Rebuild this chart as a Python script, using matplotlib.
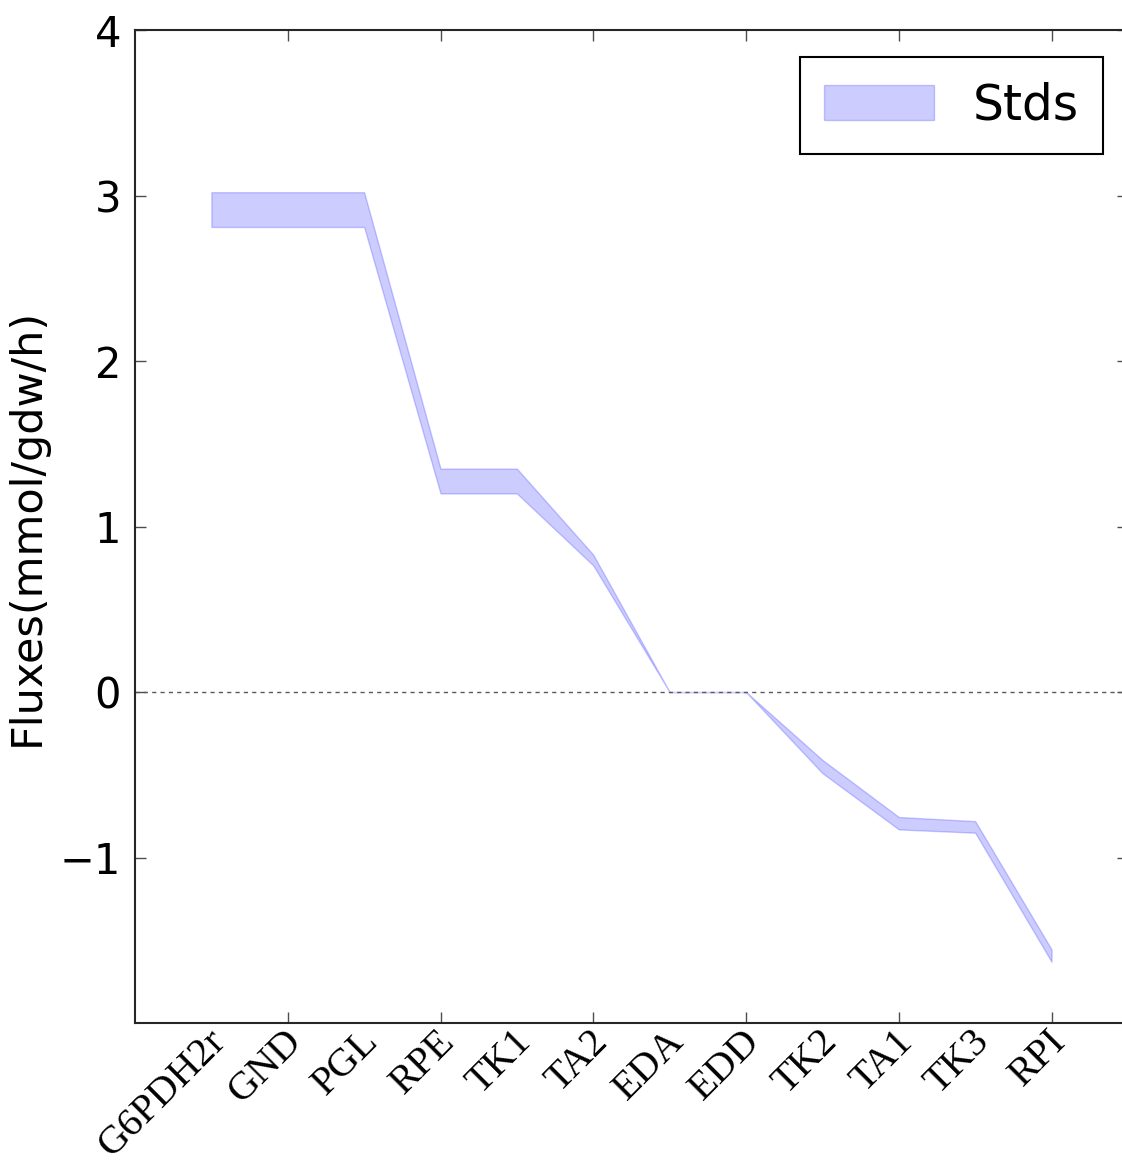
import numpy as np
import matplotlib
matplotlib.use('Agg')
import matplotlib.pyplot as plt
import matplotlib.transforms as mtransforms

# reactions and flux band (upper / lower bound of the std band)
reactions = ['G6PDH2r', 'GND', 'PGL', 'RPE', 'TK1', 'TA2',
             'EDA', 'EDD', 'TK2', 'TA1', 'TK3', 'RPI']
upper = [3.02, 3.02, 3.02, 1.35, 1.35, 0.83, 0.0, 0.0, -0.41, -0.755, -0.78, -1.555]
lower = [2.81, 2.81, 2.81, 1.20, 1.20, 0.765, 0.0, 0.0, -0.49, -0.83, -0.85, -1.63]
yticks = [-1, 0, 1, 2, 3, 4]

x = np.arange(1, len(reactions) + 1)

fig = plt.figure(figsize=(11.22, 11.64), dpi=100)
ax = fig.add_axes([0.1203, 0.1211, 0.8850, 0.8531])

ax.fill_between(x, lower, upper, facecolor='b', edgecolor='b', alpha=0.2,
                linewidth=1, label='Stds')
ax.axhline(0, color='0.35', linestyle='--', linewidth=1, dashes=(3, 3))

ax.set_xlim(0, 13)
ax.set_ylim(-2, 4)
ax.set_yticks(yticks)
ax.set_yticklabels(['\u2212' + str(-t) if t < 0 else str(t) for t in yticks])

# tick marks every other reaction, rotated labels under every reaction
ax.set_xticks(x[1::2])
ax.set_xticklabels([])
ax.tick_params(axis='x', direction='in', length=8, width=1,
               top=True, bottom=True, color='0.3')
ax.tick_params(axis='y', direction='in', length=8, width=1,
               left=True, right=True, labelsize=30, pad=10, color='0.3')

shift = mtransforms.ScaledTranslation(22 / 100, 0, fig.dpi_scale_trans)
for xi, name in zip(x, reactions):
    ax.text(xi, 0, name, transform=ax.get_xaxis_transform() + shift,
            rotation=45, ha='right', va='top',
            family='Liberation Serif', fontsize=29)

for s in ax.spines.values():
    s.set_linewidth(1.5)
    s.set_color('0.15')

ax.set_ylabel('Fluxes(mmol/gdw/h)', fontsize=31)
ax.yaxis.set_label_coords(-0.088, 0.5)

leg = ax.legend(loc='upper right', bbox_to_anchor=(1103 / 1122, 1 - 57 / 1164),
                bbox_transform=fig.transFigure, borderaxespad=0, fontsize=35,
                fancybox=False, framealpha=1, edgecolor='k',
                handlelength=2.25, handleheight=0.75, handletextpad=0.8,
                borderpad=0.5)
leg.get_frame().set_linewidth(1.5)

fig.savefig('out.png', dpi=100)
